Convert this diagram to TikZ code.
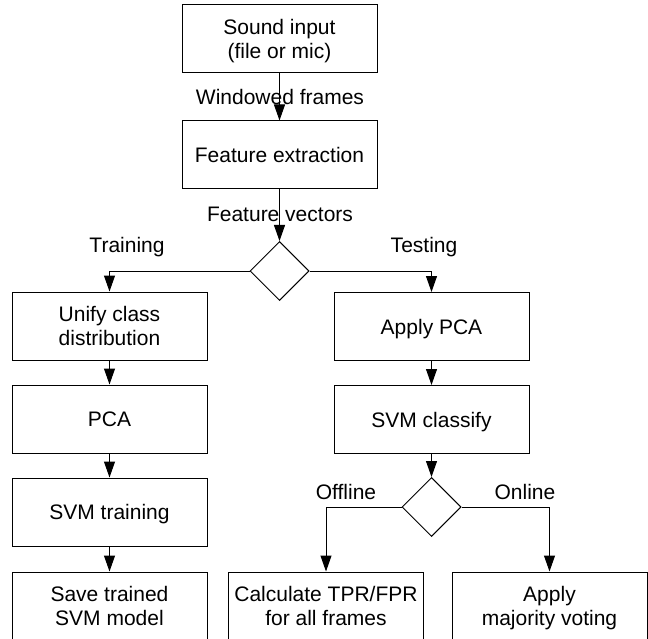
\documentclass[tikz,border=0pt]{standalone}
\usepackage{fontspec}
\setmainfont{Liberation Sans}
\usetikzlibrary{shapes.geometric,arrows.meta}
\begin{document}
\begin{tikzpicture}[x=1pt,y=-1pt,
  every node/.style={font=\fontsize{21}{24}\selectfont},
  box/.style={draw,line width=1pt,minimum width=195pt,minimum height=68pt,inner sep=0pt,align=center,text depth=0pt},
  dec/.style={draw,diamond,line width=1pt,minimum width=59pt,minimum height=59pt,inner sep=0pt},
  lbl/.style={anchor=base,inner sep=0pt},
  conn/.style={line width=1pt,-{Triangle[length=16pt,width=11pt]}}]
\useasboundingbox (0,0) rectangle (648,639);
\node[box] (snd) at (279.5,39) {Sound input\\(file or mic)};
\node[box] (fe) at (279.5,155) {Feature extraction};
\node[dec] (d1) at (279.5,271) {};
\node[box] (uni) at (109.5,326) {Unify class\\distribution};
\node[box] (pca) at (109.5,419) {PCA};
\node[box] (svt) at (109.5,512) {SVM training};
\node[box] (sav) at (109.5,606) {Save trained\\SVM model};
\node[box] (apca) at (431.5,326.5) {Apply PCA};
\node[box] (svc) at (431.5,419.5) {SVM classify};
\node[dec] (d2) at (431.5,507) {};
\node[box] (calc) at (326,606) {Calculate TPR/FPR\\for all frames};
\node[box] (maj) at (549.5,606) {Apply\\majority voting};
\draw[conn] (snd) -- (fe);
\draw[conn] (fe) -- (d1);
\draw[conn] (d1.west) -| (uni.north);
\draw[conn] (d1.east) -| (apca.north);
\draw[conn] (uni) -- (pca);
\draw[conn] (pca) -- (svt);
\draw[conn] (svt) -- (sav);
\draw[conn] (apca) -- (svc);
\draw[conn] (svc) -- (d2);
\draw[conn] (d2.west) -| (calc.north);
\draw[conn] (d2.east) -| (maj.north);
\node[lbl] (l1) at (280,105) {Windowed frames};
\node[lbl] (l2) at (280,222) {Feature vectors};
\node[lbl] (l3) at (127,253) {Training};
\node[lbl] (l4) at (424,253) {Testing};
\node[lbl] (l5) at (346,499) {Offline};
\node[lbl] (l6) at (525,499) {Online};
\end{tikzpicture}
\end{document}
